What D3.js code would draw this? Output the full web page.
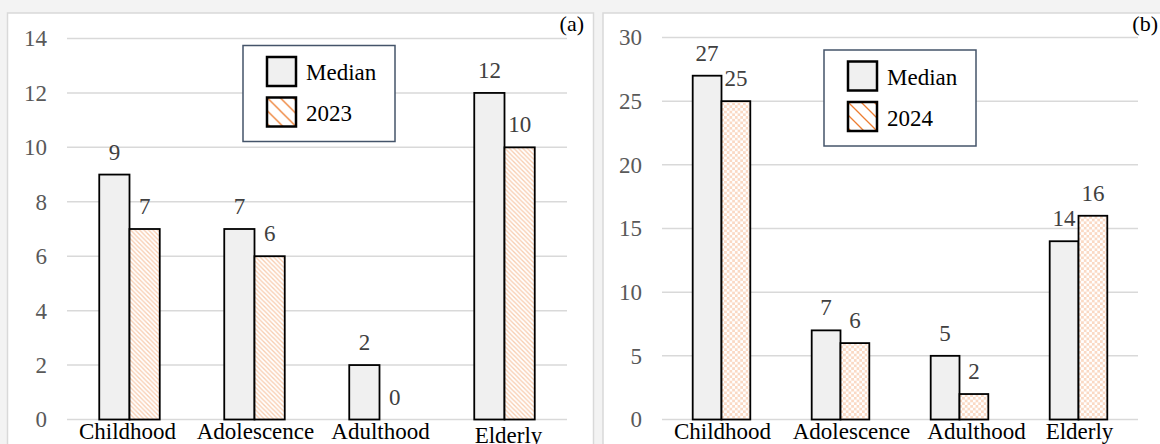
<!DOCTYPE html>
<html>
<head>
<meta charset="utf-8">
<script src="https://cdn.jsdelivr.net/npm/d3@7"></script>
<style>
  body { margin: 0; background: #f3f3f3; }
</style>
</head>
<body>
<div id="chart"></div>
<script>
var categories = ["Childhood", "Adolescence", "Adulthood", "Elderly"];
var medianA = [9, 7, 2, 12];
var values2023 = [7, 6, 0, 10];
var medianB = [27, 7, 5, 14];
var values2024 = [25, 6, 2, 16];
var ticksA = [0, 2, 4, 6, 8, 10, 12, 14];
var ticksB = [0, 5, 10, 15, 20, 25, 30];

var serif = "'Liberation Serif'";

var svgWidth = 1160;
var svgHeight = 444;

var svg = d3.select("#chart")
    .append("svg")
    .attr("width", svgWidth)
    .attr("height", svgHeight);

svg.append("rect")
    .attr("width", svgWidth)
    .attr("height", svgHeight)
    .attr("fill", "#f3f3f3");

var defs = svg.append("defs");

// pale diagonal hatch for panel (a) bars
var hatch = defs.append("pattern")
    .attr("id", "hatchA")
    .attr("patternUnits", "userSpaceOnUse")
    .attr("width", 4.5)
    .attr("height", 4.5);
hatch.append("rect").attr("width", 4.5).attr("height", 4.5).attr("fill", "#fff");
hatch.append("path")
    .attr("d", "M0,0 L4.5,4.5 M-1,3.5 L1,5.5 M3.5,-1 L5.5,1")
    .attr("stroke", "#f8cdb0")
    .attr("stroke-width", 1.3);

// small checker for panel (b) bars
var checker = defs.append("pattern")
    .attr("id", "checkB")
    .attr("patternUnits", "userSpaceOnUse")
    .attr("width", 5.4)
    .attr("height", 5.4);
checker.append("rect").attr("width", 5.4).attr("height", 5.4).attr("fill", "#fff");
checker.append("rect").attr("width", 2.7).attr("height", 2.7).attr("fill", "#fad9c4");
checker.append("rect").attr("x", 2.7).attr("y", 2.7).attr("width", 2.7).attr("height", 2.7).attr("fill", "#fad9c4");

function legendHatch(id, x, y) {
    var p = defs.append("pattern")
        .attr("id", id)
        .attr("patternUnits", "userSpaceOnUse")
        .attr("x", x).attr("y", y)
        .attr("width", 13)
        .attr("height", 13);
    p.append("rect").attr("width", 13).attr("height", 13).attr("fill", "#fff");
    p.append("path")
        .attr("d", "M0,0 L13,13 M-3,10 L3,16 M10,-3 L16,3")
        .attr("stroke", "#ed7d31")
        .attr("stroke-width", 1.3);
}

function drawPanel(cfg) {
    svg.append("rect")
        .attr("x", cfg.box[0])
        .attr("y", cfg.box[1])
        .attr("width", cfg.box[2])
        .attr("height", cfg.box[3])
        .attr("fill", "#fff")
        .attr("stroke", "#d9d9d9")
        .attr("stroke-width", 1.5);

    var x = d3.scaleBand()
        .domain(categories)
        .range(cfg.xRange);

    var y = d3.scaleLinear()
        .domain([0, d3.max(cfg.ticks)])
        .range(cfg.yRange);

    var g = svg.append("g");

    // gridlines
    g.selectAll(".grid")
        .data(cfg.ticks)
        .enter()
        .append("line")
        .attr("x1", cfg.xRange[0])
        .attr("x2", cfg.xRange[1])
        .attr("y1", d => y(d))
        .attr("y2", d => y(d))
        .attr("stroke", "#d9d9d9")
        .attr("stroke-width", 1.5);

    var leftAxis = d3.axisLeft(y)
        .tickValues(cfg.ticks)
        .tickSize(0)
        .tickPadding(20);

    var axisG = g.append("g")
        .attr("transform", `translate(${cfg.xRange[0]}, 0)`)
        .call(leftAxis)
        .attr("font-family", serif)
        .attr("font-size", 23);
    axisG.select(".domain").remove();
    axisG.selectAll("text")
        .attr("fill", "#595959")
        .attr("font-family", serif)
        .attr("font-size", 23);

    var bw = x.bandwidth();
    var barW = bw * 0.242;
    var sub = d3.scaleBand()
        .domain(["median", "year"])
        .range([bw / 2 - barW, bw / 2 + barW]);

    var rows = categories.map((c, i) => ({ cat: c, median: cfg.median[i], year: cfg.year[i] }));

    var groups = g.selectAll(".grp")
        .data(rows)
        .enter()
        .append("g")
        .attr("transform", d => `translate(${x(d.cat)}, 0)`);

    groups.append("rect")
        .attr("x", sub("median"))
        .attr("y", d => y(d.median))
        .attr("width", sub.bandwidth())
        .attr("height", d => y(0) - y(d.median))
        .attr("fill", "#f0f0f0")
        .attr("stroke", "#000")
        .attr("stroke-width", 1.8);

    groups.filter(d => d.year > 0)
        .append("rect")
        .attr("x", sub("year"))
        .attr("y", d => y(d.year))
        .attr("width", sub.bandwidth())
        .attr("height", d => y(0) - y(d.year))
        .attr("fill", `url(#${cfg.fill})`)
        .attr("stroke", "#000")
        .attr("stroke-width", 1.8);

    groups.append("text")
        .attr("x", sub("median") + sub.bandwidth() / 2)
        .attr("y", d => y(d.median) - 15)
        .attr("text-anchor", "middle")
        .attr("font-family", serif)
        .attr("font-size", 23)
        .attr("fill", "#404040")
        .text(d => d.median);

    groups.append("text")
        .attr("x", sub("year") + sub.bandwidth() / 2)
        .attr("y", d => y(d.year) - 15)
        .attr("text-anchor", "middle")
        .attr("font-family", serif)
        .attr("font-size", 23)
        .attr("fill", "#404040")
        .text(d => d.year);

    // category labels
    g.selectAll(".cat")
        .data(categories)
        .enter()
        .append("text")
        .attr("x", (d, i) => x(d) + bw / 2 + cfg.labelDx[i])
        .attr("y", (d, i) => 439 + cfg.labelDy[i])
        .attr("text-anchor", "middle")
        .attr("font-family", serif)
        .attr("font-size", 23)
        .attr("fill", "#000")
        .text(d => d);

    // panel letter
    svg.append("text")
        .attr("x", cfg.letterX)
        .attr("y", 31)
        .attr("text-anchor", "end")
        .attr("font-family", serif)
        .attr("font-size", 22)
        .attr("fill", "#000")
        .text(cfg.letter);

    // legend
    var lx = cfg.legend[0], ly = cfg.legend[1];
    var leg = svg.append("g");
    leg.append("rect")
        .attr("x", lx).attr("y", ly)
        .attr("width", 152).attr("height", 96)
        .attr("fill", "#fff")
        .attr("stroke", "#44546a")
        .attr("stroke-width", 1.5);

    legendHatch(cfg.fill + "Leg", lx + 24, ly + 52);

    leg.append("rect")
        .attr("x", lx + 24).attr("y", ly + 11.5)
        .attr("width", 29).attr("height", 29)
        .attr("fill", "#f0f0f0")
        .attr("stroke", "#000")
        .attr("stroke-width", 2.5);
    leg.append("rect")
        .attr("x", lx + 24).attr("y", ly + 52)
        .attr("width", 29).attr("height", 29)
        .attr("fill", `url(#${cfg.fill}Leg)`)
        .attr("stroke", "#000")
        .attr("stroke-width", 2.5);
    leg.append("text")
        .attr("x", lx + 63).attr("y", ly + 34.5)
        .attr("font-family", serif)
        .attr("font-size", 23)
        .attr("fill", "#000")
        .text("Median");
    leg.append("text")
        .attr("x", lx + 63).attr("y", ly + 75.5)
        .attr("font-family", serif)
        .attr("font-size", 23)
        .attr("fill", "#000")
        .text(cfg.yearLabel);
}

drawPanel({
    box: [7.5, 13, 586, 445],
    xRange: [67, 567],
    yRange: [419.5, 38.5],
    ticks: ticksA,
    median: medianA,
    year: values2023,
    fill: "hatchA",
    yearLabel: "2023",
    letter: "(a)",
    letterX: 584,
    legend: [243, 45.5],
    labelDx: [-2, 1, 1, 4],
    labelDy: [0, 0, 0, 4]
});

drawPanel({
    box: [603, 13, 565, 445],
    xRange: [662, 1138],
    yRange: [419.5, 37.5],
    ticks: ticksB,
    median: medianB,
    year: values2024,
    fill: "checkB",
    yearLabel: "2024",
    letter: "(b)",
    letterX: 1158,
    legend: [824, 50],
    labelDx: [1, 11, 17, 1],
    labelDy: [0, 0, 0, 0]
});
</script>
</body>
</html>
